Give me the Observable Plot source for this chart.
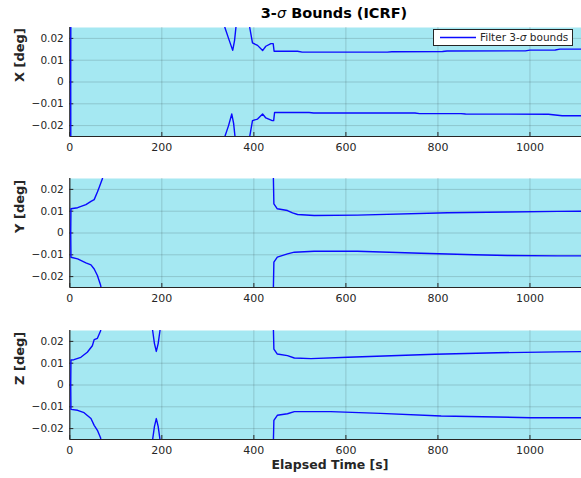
<!DOCTYPE html>
<html><head><meta charset="utf-8">
<script src="https://cdn.jsdelivr.net/npm/d3@7"></script>
<script src="https://cdn.jsdelivr.net/npm/@observablehq/plot@0.6"></script>
<style>
body{margin:0;background:#fff;overflow:hidden}
#wrap{position:relative;width:581px;height:478px;overflow:hidden;font-family:"DejaVu Sans",sans-serif;color:#262626}
.panel{position:absolute;left:0}
#title{position:absolute;left:334px;top:6px;transform:translateX(-50%);font-weight:bold;font-size:14.5px;line-height:1;white-space:nowrap;color:#000}
#xlabel{position:absolute;left:330px;top:459px;transform:translateX(-50%);font-weight:bold;font-size:12.5px;line-height:1;white-space:nowrap;color:#262626}
#legend{position:absolute;left:433px;top:28.5px;width:138px;height:15px;border:1px solid #262626;background:#fff;font-size:10.5px;line-height:15px;white-space:nowrap;color:#262626}
#legend svg{position:absolute;left:6px;top:0}
#legend span{position:absolute;left:46px;top:0}
</style></head><body>
<div id="wrap">
  <div id="title">3-<i style="font-weight:normal">σ</i> Bounds (ICRF)</div>
  <div id="p1" class="panel"></div>
  <div id="p2" class="panel"></div>
  <div id="p3" class="panel"></div>
  <div id="legend"><svg width="38" height="15"><line x1="0" x2="36" y1="7.5" y2="7.5" stroke="#0a0aff" stroke-width="1.4"/></svg><span id="legtext"></span></div>
  <div id="xlabel"></div>
</div>
<script>
// ---- data ----
const xLabel = "Elapsed Time [s]";
const yLabels = ["X [deg]", "Y [deg]", "Z [deg]"];
const legendLabel = ["Filter 3-", "σ", " bounds"];
const xDomain = [0, 1112];
const yDomain = [-0.025, 0.025];
const xTicks = [0, 200, 400, 600, 800, 1000];
const yTicks = [-0.02, -0.01, 0, 0.01, 0.02];

const xUpperT = [2, 2.5, 330, 337, 345, 354, 358, 361, 368, 385, 391, 397, 408, 419, 426, 437, 442, 444, 495, 505, 690, 700, 810, 820, 990, 1000, 1055, 1065, 1112];
const xUpperV = [0, 0.08, 0.08, 0.025, 0.02, 0.0145, 0.019, 0.025, 0.05, 0.05, 0.025, 0.0179, 0.0168, 0.0144, 0.0164, 0.0176, 0.0176, 0.0141, 0.0141, 0.0137, 0.0137, 0.0139, 0.0140, 0.0142, 0.0143, 0.0146, 0.0147, 0.0151, 0.0151];
const xLowerT = [2, 2.5, 330, 337, 345, 352, 356, 359, 366, 385, 391, 397, 408, 419, 426, 440, 443, 445, 520, 530, 750, 760, 850, 860, 1040, 1070, 1112];
const xLowerV = [0, -0.08, -0.08, -0.025, -0.02, -0.0147, -0.019, -0.025, -0.05, -0.05, -0.025, -0.0177, -0.017, -0.0147, -0.0165, -0.0177, -0.0177, -0.014, -0.014, -0.0142, -0.0142, -0.0145, -0.0145, -0.0147, -0.0148, -0.0155, -0.0155];

const yUpperT = [2, 2.5, 17, 35, 46, 53, 60, 64, 71, 80, 430, 442, 443.5, 451, 473, 484, 495, 531, 625, 821, 951, 1060, 1112];
const yUpperV = [0, 0.0111, 0.0116, 0.013, 0.0145, 0.0153, 0.0188, 0.021, 0.025, 0.06, 0.06, 0.03, 0.0134, 0.0111, 0.0103, 0.0092, 0.0085, 0.0080, 0.0082, 0.0093, 0.0096, 0.0099, 0.0100];
const yLowerT = [2, 2.5, 17, 35, 46, 53, 60, 67, 72, 80, 430, 442, 443.5, 451, 473, 488, 531, 625, 763, 879, 951, 1060, 1112];
const yLowerV = [0, -0.0111, -0.0119, -0.0137, -0.0146, -0.0165, -0.0195, -0.024, -0.03, -0.06, -0.06, -0.03, -0.0134, -0.0111, -0.0096, -0.0088, -0.0084, -0.0084, -0.0093, -0.0100, -0.0103, -0.0105, -0.0105];

const zUpperT = [2, 2.5, 9, 24, 38, 49, 53, 60, 67, 75, 170, 180, 184, 188, 192, 196, 205, 430, 442, 443.5, 451, 473, 488, 524, 604, 793, 929, 1060, 1112];
const zUpperV = [0, 0.0115, 0.0116, 0.0127, 0.015, 0.018, 0.0208, 0.0214, 0.0249, 0.05, 0.05, 0.025, 0.019, 0.0154, 0.019, 0.025, 0.05, 0.06, 0.03, 0.0165, 0.0142, 0.0135, 0.0124, 0.0121, 0.0127, 0.0141, 0.0148, 0.0152, 0.0153];
const zLowerT = [2, 2.5, 17, 31, 46, 53, 60, 67, 75, 170, 180, 184, 188, 192, 196, 205, 430, 442, 443.5, 451, 473, 488, 567, 675, 807, 1002, 1112];
const zLowerV = [0, -0.0112, -0.0116, -0.0127, -0.0154, -0.0185, -0.0208, -0.0243, -0.05, -0.05, -0.025, -0.019, -0.0154, -0.019, -0.025, -0.05, -0.06, -0.03, -0.0162, -0.0139, -0.0132, -0.0122, -0.0122, -0.013, -0.0142, -0.015, -0.015];

// ---- layout/style ----
const BG = "#a5e8f2";
const INK = "#262626";
const LINE = "#0a0aff";
const MT = 10, MB = 25, PH = 109;
const panelTops = [16.7, 168.3, 319.7];
const fmtY = d3.format("~g");

document.getElementById("xlabel").textContent = xLabel;
document.getElementById("legtext").innerHTML = legendLabel[0] + "<i>" + legendLabel[1] + "</i>" + legendLabel[2];

function pts(T, V) { return T.map((t, i) => ({t, v: V[i]})); }

function makePanel(id, label, upT, upV, loT, loV, top) {
  const el = document.getElementById(id);
  el.style.top = top + "px";
  const svg = Plot.plot({
    width: 581,
    height: PH + MT + MB,
    marginLeft: 69.3, marginRight: 0, marginTop: MT, marginBottom: MB,
    x: {domain: xDomain},
    y: {domain: yDomain},
    style: {fontFamily: "DejaVu Sans, sans-serif", fontSize: "10.5px", color: INK, background: "transparent", overflow: "visible"},
    marks: [
      Plot.frame({fill: BG, stroke: "none"}),
      Plot.gridX(xTicks, {stroke: "#000", strokeOpacity: 0.15, strokeWidth: 1}),
      Plot.gridY(yTicks, {stroke: "#000", strokeOpacity: 0.15, strokeWidth: 1}),
      Plot.ruleX([xDomain[0]], {stroke: INK, strokeWidth: 1.2}),
      Plot.ruleY([yDomain[0]], {stroke: INK, strokeWidth: 1.2}),
      Plot.axisX(xTicks, {tickSize: -4, tickPadding: 11, label: null, stroke: INK, fill: INK, fontSize: 11, tickFormat: d => String(d)}),
      Plot.axisY(yTicks, {tickSize: -4, tickPadding: 10, label: null, stroke: INK, fill: INK, tickFormat: fmtY}),
      Plot.line(pts(upT, upV), {x: "t", y: "v", stroke: LINE, strokeWidth: 1.4, clip: true}),
      Plot.line(pts(loT, loV), {x: "t", y: "v", stroke: LINE, strokeWidth: 1.4, clip: true}),
      Plot.text([label], {text: d => d, frameAnchor: "left", rotate: -90, dx: -50, fontWeight: "bold", fontSize: 13, fill: INK})
    ]
  });
  el.appendChild(svg);
}

makePanel("p1", yLabels[0], xUpperT, xUpperV, xLowerT, xLowerV, panelTops[0]);
makePanel("p2", yLabels[1], yUpperT, yUpperV, yLowerT, yLowerV, panelTops[1]);
makePanel("p3", yLabels[2], zUpperT, zUpperV, zLowerT, zLowerV, panelTops[2]);
</script>
</body></html>
